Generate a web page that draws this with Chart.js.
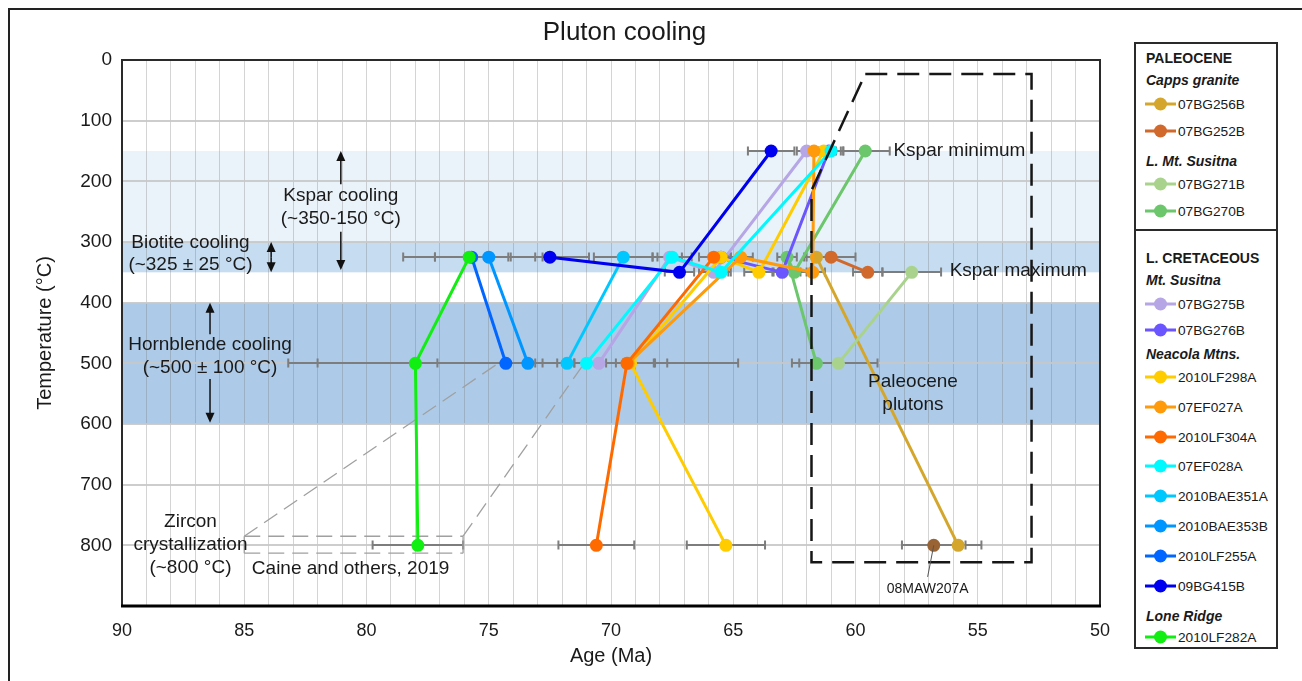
<!DOCTYPE html>
<html>
<head>
<meta charset="utf-8">
<title>Pluton cooling</title>
<script src="https://cdn.jsdelivr.net/npm/chart.js@4.4.1/dist/chart.umd.min.js"></script>
<style>
  body { margin: 0; background: #fff; overflow: hidden; font-family: 'Liberation Sans', Arial, sans-serif; }
  #wrap { position: relative; width: 1302px; height: 681px; }
  #coolingChart { position: absolute; left: 0; top: 0; }
  .frame { position: absolute; left: 8px; top: 8px; width: 1310px; height: 690px; border: 2.5px solid #222; pointer-events: none; }
  .lbox { position: absolute; left: 1134px; width: 140px; border: 2px solid #2a2a2a; background: #fff; }
  .lrow { position: absolute; left: 1146px; white-space: nowrap; color: #1a1a1a; transform: translateY(-50%); }
  .era { font-weight: bold; font-size: 14px; }
  .unit { font-weight: bold; font-style: italic; font-size: 14px; }
  .item { font-size: 13.7px; left: 1145px; }
  .sym { display: inline-block; position: relative; width: 31px; height: 12px; vertical-align: middle; margin-right: 2px; top: -1px; }
  .sym i { position: absolute; left: 0; right: 0; top: 5px; height: 3px; }
  .sym b { position: absolute; left: 9px; top: 0; width: 13px; height: 13px; border-radius: 50%; }
</style>
</head>
<body>
<div id="wrap">
  <canvas id="coolingChart" width="1302" height="681"></canvas>
  <div class="frame"></div>
  <div class="lbox" style="top:42px;height:186px;"></div>
  <div class="lbox" style="top:229px;height:416px;"></div>
  <div id="legend"></div>
</div>
<script>
// closure temperatures of each thermochronometer (°C)
const closureTemp = [800, 500, 325, 350, 150]; // zircon, hornblende, biotite, Kspar max, Kspar min

const samples = ['07BG256B', '07BG252B', '07BG271B', '07BG270B', '07BG275B', '07BG276B',
  '2010LF298A', '07EF027A', '2010LF304A', '07EF028A', '2010BAE351A', '2010BAE353B',
  '2010LF255A', '09BG415B', '2010LF282A', '08MAW207A'];

const sampleColors = ['#d4a72c', '#d2692c', '#a9d38c', '#6cc66c', '#b6a6e6', '#6a55ff',
  '#ffcc00', '#ff9a0a', '#ff6a00', '#00f8ff', '#00c8ff', '#0096ff',
  '#0066ff', '#0000f0', '#11ee11', '#9a6334'];

// ages (Ma) and 2-sigma errors, one entry per sample, null = no date
const zirconAge     = [55.8, null, null, null, null, null, 65.3, null, 70.6, null, null, null, null, null, 77.9, 56.8];
const zirconErr     = [0.95, null, null, null, null, null, 1.6,  null, 1.55, null, null, null, null, null, 1.85, 1.3];
const hornblendeAge = [null, null, 60.7, 61.6, 70.5, null, 69.2, 69.3, 69.35, 71.0, 71.8, 73.4, 74.3, null, 78.0, null];
const hornblendeErr = [null, null, 1.6,  1.0,  1.0,  null, 1.0,  1.6,  1.1,  1.2,  1.3,  8.6,  2.8,  null, 5.2,  null];
const biotiteAge    = [61.6, 61.0, null, 62.8, 67.6, 65.5, 65.5, 64.7, 65.8, 67.5, 69.5, 75.0, 75.7, 72.5, 75.8, null];
const biotiteErr    = [0.5,  1.0,  null, 0.4,  0.5,  0.4,  0.4,  0.5,  0.6,  0.8,  1.2,  2.2,  1.5,  1.6,  2.7,  null];
const ksparMaxAge   = [null, 59.5, 57.7, 62.5, 65.8, 63.0, 63.95, 61.75, null, 65.5, null, null, null, 67.2, null, null];
const ksparMaxErr   = [null, 0.6,  1.2,  0.5,  0.6,  0.4,  0.6,  0.5,  null, 0.4,  null, null, null, 0.6,  null, null];
const ksparMinAge   = [null, null, null, 59.6, 62.0, 61.1, 61.3, 61.7, null, 61.0, null, null, null, 63.45, null, null];
const ksparMinErr   = [null, null, null, 1.0,  0.4,  0.6,  0.5,  0.4,  null, 0.5,  null, null, null, 0.95, null, null];

const ageRows = [zirconAge, hornblendeAge, biotiteAge, ksparMaxAge, ksparMinAge];
const errRows = [zirconErr, hornblendeErr, biotiteErr, ksparMaxErr, ksparMinErr];

// closure-temperature windows shaded behind the data (°C)
const bandLow   = [150, 300, 400];
const bandHigh  = [300, 350, 600];
const bandColor = ['#ebf3fa', '#c6dcf0', '#adcbe8'];

// legend layout
const legendRows = [
  ['era', 'PALEOCENE', 58], ['unit', 'Capps granite', 80], ['item', '07BG256B', 104], ['item', '07BG252B', 131],
  ['unit', 'L. Mt. Susitna', 161], ['item', '07BG271B', 184], ['item', '07BG270B', 211],
  ['era', 'L. CRETACEOUS', 258], ['unit', 'Mt. Susitna', 280], ['item', '07BG275B', 304], ['item', '07BG276B', 330],
  ['unit', 'Neacola Mtns.', 354], ['item', '2010LF298A', 377], ['item', '07EF027A', 407], ['item', '2010LF304A', 437],
  ['item', '07EF028A', 466], ['item', '2010BAE351A', 496], ['item', '2010BAE353B', 526], ['item', '2010LF255A', 556],
  ['item', '09BG415B', 586], ['unit', 'Lone Ridge', 616], ['item', '2010LF282A', 637]
];

const legendEl = document.getElementById('legend');
legendRows.forEach(([kind, text, y]) => {
  const row = document.createElement('div');
  row.className = 'lrow ' + kind;
  row.style.top = y + 'px';
  if (kind === 'item') {
    const c = sampleColors[samples.indexOf(text)];
    row.innerHTML = '<span class="sym"><i style="background:' + c + '"></i><b style="background:' + c + '"></b></span>' + text;
  } else {
    row.textContent = text;
  }
  legendEl.appendChild(row);
});

// text notes placed in data units [age, temp]
const notes = [
  ['Pluton cooling', 69.45, -44, 'center', 26],
  ['Kspar minimum', 58.45, 150, 'left', 19],
  ['Kspar maximum', 56.15, 347, 'left', 19],
  ['Paleocene', 57.65, 531, 'center', 19],
  ['plutons', 57.65, 569, 'center', 19],
  ['Kspar cooling', 81.05, 224, 'center', 19],
  ['(~350-150 °C)', 81.05, 262, 'center', 19],
  ['Biotite cooling', 87.2, 302, 'center', 19],
  ['(~325 ± 25 °C)', 87.2, 338, 'center', 19],
  ['Hornblende cooling', 86.4, 470, 'center', 19],
  ['(~500 ± 100 °C)', 86.4, 507, 'center', 19],
  ['Zircon', 87.2, 761, 'center', 19],
  ['crystallization', 87.2, 799, 'center', 19],
  ['(~800 °C)', 87.2, 837, 'center', 19],
  ['Caine and others, 2019', 80.65, 838, 'center', 19],
  ['08MAW207A', 57.05, 873, 'center', 14]
];

// arrows: [age, fromTemp, toTemp]
const arrows = [
  [81.05, 205, 150], [81.05, 283, 346],
  [86.4, 452, 400], [86.4, 526, 598],
  [83.9, 325, 300], [83.9, 325, 350]
];

// Paleocene plutons outline and callout (dashed)
const boxAge  = [59.6, 52.8, 52.8, 61.8, 61.8, 59.6];
const boxTemp = [23, 23, 828, 828, 215, 23];

// zircon callout lines toward Caine and others (2019) data
const calloutSegs = [
  [85.0, 785, 76.05, 785], [85.0, 813, 76.05, 813],
  [85.0, 785, 74.54, 498], [76.05, 785, 71.06, 498]
];

const datasets = samples.map((name, i) => {
  const pts = [];
  ageRows.forEach((ages, r) => {
    if (ages[i] != null) pts.push({ x: ages[i], y: closureTemp[r] });
  });
  return {
    label: name,
    data: pts,
    showLine: true,
    borderColor: sampleColors[i],
    backgroundColor: sampleColors[i],
    borderWidth: 3,
    pointRadius: 6.5,
    pointHoverRadius: 6.5,
    pointBorderWidth: 0,
    order: -i
  };
});

function arrowHead(ctx, x, y, dir) {
  ctx.beginPath();
  ctx.moveTo(x, y);
  ctx.lineTo(x - 4.5, y - dir * 10);
  ctx.lineTo(x + 4.5, y - dir * 10);
  ctx.closePath();
  ctx.fill();
}

const decorations = {
  id: 'decorations',
  beforeDraw(chart) {
    const { ctx, chartArea: a, scales: { x, y } } = chart;
    ctx.save();
    ctx.fillStyle = '#fff';
    ctx.fillRect(0, 0, chart.width, chart.height);
    bandLow.forEach((lo, i) => {
      const y1 = y.getPixelForValue(lo), y2 = y.getPixelForValue(bandHigh[i]);
      ctx.fillStyle = bandColor[i];
      ctx.fillRect(a.left, y1, a.right - a.left, y2 - y1);
    });
    ctx.restore();
  },
  beforeDatasetsDraw(chart) {
    const { ctx, scales: { x, y } } = chart;
    ctx.save();
    // error bars
    ctx.strokeStyle = '#7d7d7d';
    ctx.lineWidth = 2;
    ageRows.forEach((ages, r) => {
      const py = Math.round(y.getPixelForValue(closureTemp[r]));
      ages.forEach((age, i) => {
        if (age == null) return;
        const e = errRows[r][i];
        const x1 = x.getPixelForValue(age - e), x2 = x.getPixelForValue(age + e);
        ctx.beginPath();
        ctx.moveTo(x1, py); ctx.lineTo(x2, py);
        ctx.moveTo(x1, py - 4.5); ctx.lineTo(x1, py + 4.5);
        ctx.moveTo(x2, py - 4.5); ctx.lineTo(x2, py + 4.5);
        ctx.stroke();
      });
    });
    // zircon callout
    ctx.strokeStyle = '#a0a0a0';
    ctx.lineWidth = 1.3;
    ctx.setLineDash([16, 8]);
    calloutSegs.forEach(([a1, t1, a2, t2]) => {
      ctx.beginPath();
      ctx.moveTo(x.getPixelForValue(a1), y.getPixelForValue(t1));
      ctx.lineTo(x.getPixelForValue(a2), y.getPixelForValue(t2));
      ctx.stroke();
    });
    ctx.setLineDash([]);
    ctx.beginPath();
    [85.0, 76.05].forEach(a1 => {
      ctx.moveTo(x.getPixelForValue(a1), y.getPixelForValue(785));
      ctx.lineTo(x.getPixelForValue(a1), y.getPixelForValue(813));
    });
    ctx.stroke();
    ctx.restore();
  },
  afterDatasetsDraw(chart) {
    const { ctx, chartArea: a, scales: { x, y } } = chart;
    ctx.save();
    // Paleocene plutons box
    ctx.strokeStyle = '#161616';
    ctx.lineWidth = 2.5;
    ctx.setLineDash([22, 10]);
    ctx.beginPath();
    boxAge.forEach((age, i) => {
      const px = x.getPixelForValue(age), py = y.getPixelForValue(boxTemp[i]);
      if (i === 0) ctx.moveTo(px, py); else ctx.lineTo(px, py);
    });
    ctx.stroke();
    ctx.setLineDash([]);

    // leader for 08MAW207A
    ctx.strokeStyle = '#555';
    ctx.lineWidth = 1;
    ctx.beginPath();
    ctx.moveTo(x.getPixelForValue(56.8), y.getPixelForValue(800));
    ctx.lineTo(x.getPixelForValue(57.05), y.getPixelForValue(852));
    ctx.stroke();

    // arrows
    ctx.strokeStyle = '#111';
    ctx.fillStyle = '#111';
    ctx.lineWidth = 1.5;
    arrows.forEach(([age, t1, t2]) => {
      const px = x.getPixelForValue(age);
      const y1 = y.getPixelForValue(t1), y2 = y.getPixelForValue(t2);
      const dir = y2 > y1 ? 1 : -1;
      ctx.beginPath();
      ctx.moveTo(px, y1); ctx.lineTo(px, y2 - dir * 8);
      ctx.stroke();
      arrowHead(ctx, px, y2, dir);
    });

    // notes
    ctx.fillStyle = '#1a1a1a';
    ctx.textBaseline = 'middle';
    notes.forEach(([text, age, temp, align, size]) => {
      ctx.font = size + "px 'Liberation Sans', Arial, sans-serif";
      ctx.textAlign = align;
      ctx.fillText(text, x.getPixelForValue(age), y.getPixelForValue(temp));
    });

    // plot frame
    ctx.strokeStyle = '#2a2a2a';
    ctx.lineWidth = 2;
    ctx.strokeRect(a.left, a.top, a.right - a.left, a.bottom - a.top);
    ctx.strokeStyle = '#000';
    ctx.lineWidth = 3;
    ctx.beginPath();
    ctx.moveTo(a.left - 1, a.bottom); ctx.lineTo(a.right + 1, a.bottom);
    ctx.stroke();
    ctx.restore();
  }
};

Chart.defaults.font.family = "'Liberation Sans', Arial, sans-serif";
Chart.defaults.color = '#1a1a1a';

const ctx = document.getElementById('coolingChart').getContext('2d');
const coolingChart = new Chart(ctx, {
  type: 'scatter',
  data: { datasets },
  options: {
    responsive: false,
    animation: false,
    clip: false,
    layout: { padding: { left: 24, right: 202, top: 60, bottom: 0 } },
    plugins: { legend: { display: false }, tooltip: { enabled: false } },
    scales: {
      x: {
        type: 'linear', min: 50, max: 90, reverse: true,
        ticks: {
          stepSize: 1, autoSkip: false, maxRotation: 0, padding: 14,
          font: { size: 18 }, color: '#1a1a1a',
          callback: v => (v % 5 === 0 ? v : '')
        },
        grid: { color: 'rgba(120,120,120,0.32)', lineWidth: 1, drawTicks: false },
        border: { display: false },
        title: { display: true, text: 'Age (Ma)', font: { size: 20 }, color: '#1a1a1a', padding: { top: 2, bottom: 13 } },
        afterFit: s => { s.height = 75; }
      },
      y: {
        type: 'linear', min: 0, max: 900, reverse: true,
        ticks: {
          stepSize: 100, padding: 10, font: { size: 19 }, color: '#1a1a1a',
          callback: v => (v === 900 ? '' : v)
        },
        grid: { color: 'rgba(200,200,200,0.9)', lineWidth: 2, drawTicks: false },
        border: { display: false },
        title: { display: true, text: 'Temperature (°C)', font: { size: 20 }, color: '#1a1a1a', padding: { top: 9, bottom: 0 } },
        afterFit: s => { s.width = 98; }
      }
    }
  },
  plugins: [decorations]
});
</script>
</body>
</html>
